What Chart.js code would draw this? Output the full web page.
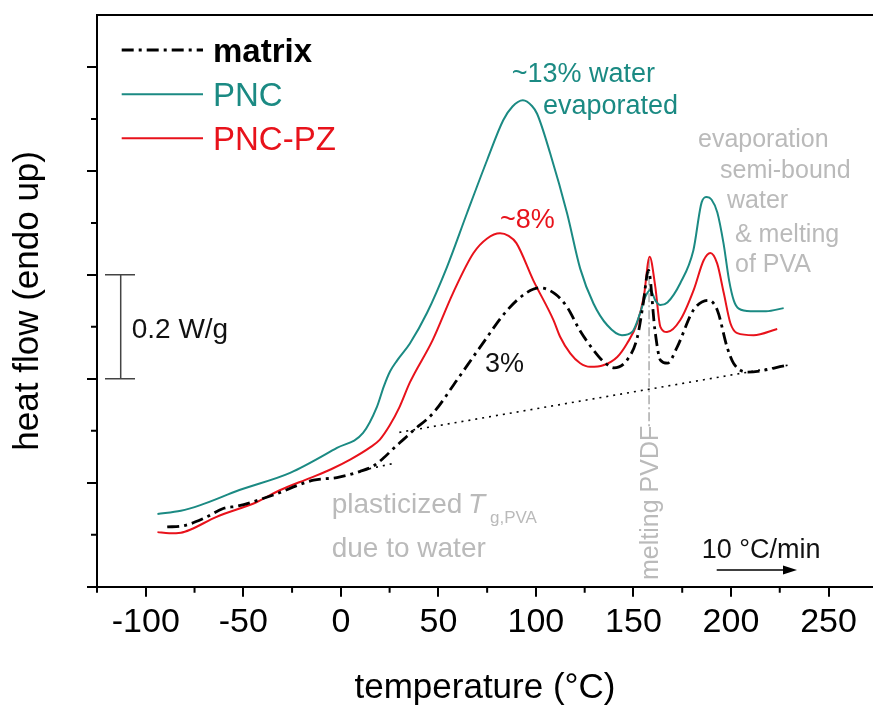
<!DOCTYPE html>
<html lang="en">
<head>
<meta charset="UTF-8">
<title>DSC heat flow – matrix, PNC, PNC-PZ</title>
<script src="https://cdn.jsdelivr.net/npm/chart.js"></script>
<style>
  html, body { margin: 0; padding: 0; background: #fff; }
  #wrap { width: 873px; height: 711px; }
</style>
</head>
<body>
<div id="wrap"><canvas id="dsc" width="873" height="711"></canvas></div>
<script>
// temperature (°C) and heat flow (W/g, arbitrary offset)
const matrixT  = [-89, -81, -70, -60, -53, -35, -14, -2, 10, 16.6, 22, 27, 32, 37, 47.3, 59.6, 71.4, 85.3, 95, 102, 110, 116, 122.7, 130, 135, 140, 146.7, 152, 155, 157.7, 161, 163.8, 167.4, 172.4, 180.7, 188.4, 193, 198, 201.3, 208.5, 229];
const matrixHF = [0.115, 0.117, 0.132, 0.151, 0.155, 0.176, 0.205, 0.210, 0.222, 0.232, 0.248, 0.266, 0.283, 0.300, 0.334, 0.398, 0.461, 0.532, 0.565, 0.575, 0.563, 0.538, 0.492, 0.453, 0.432, 0.421, 0.436, 0.480, 0.545, 0.609, 0.494, 0.436, 0.430, 0.461, 0.532, 0.551, 0.532, 0.461, 0.430, 0.413, 0.426];

const pncT  = [-94, -82, -72, -52, -26, -2, 11.4, 18.5, 22, 25.2, 28.8, 35.4, 44.2, 54.4, 64.7, 75, 83.3, 88, 93.3, 98, 100.6, 107.3, 116, 122.7, 129.5, 136.6, 144.1, 149.3, 153.4, 156, 158.7, 161.2, 163.8, 167.4, 174, 180.7, 185, 187.6, 190, 193, 196.2, 199, 201.5, 204, 210, 218, 227];
const pncHF = [0.140, 0.146, 0.157, 0.186, 0.219, 0.267, 0.296, 0.346, 0.385, 0.414, 0.435, 0.468, 0.527, 0.615, 0.719, 0.821, 0.898, 0.924, 0.936, 0.925, 0.910, 0.834, 0.718, 0.612, 0.545, 0.503, 0.484, 0.490, 0.526, 0.557, 0.571, 0.551, 0.542, 0.547, 0.584, 0.647, 0.740, 0.750, 0.745, 0.720, 0.660, 0.590, 0.550, 0.535, 0.530, 0.530, 0.536];

const pzT  = [-94, -88, -82, -77, -64, -43, -31, -15.9, -5, 5, 15, 20, 25, 30, 35.4, 47, 57.5, 68, 75, 81.6, 86, 90, 98.6, 109, 112.4, 117.6, 122.7, 127.8, 134.5, 141.7, 146.7, 151.9, 155.3, 158.3, 161.2, 163.8, 167.2, 174, 180.9, 186, 189.4, 192.9, 196.3, 199.7, 203.2, 211.6, 223.7];
const pzHF = [0.105, 0.103, 0.104, 0.110, 0.134, 0.163, 0.186, 0.209, 0.226, 0.245, 0.268, 0.283, 0.310, 0.345, 0.393, 0.474, 0.565, 0.642, 0.670, 0.680, 0.675, 0.661, 0.590, 0.513, 0.481, 0.449, 0.430, 0.423, 0.426, 0.442, 0.468, 0.507, 0.558, 0.635, 0.577, 0.500, 0.490, 0.513, 0.571, 0.628, 0.642, 0.622, 0.565, 0.507, 0.488, 0.484, 0.496];

// construction lines: baseline above Tg, extrapolated glassy baseline, PVDF melting guide
const baseT  = [30, 229];
const baseHF = [0.297, 0.426];
const glassT  = [11, 28];
const glassHF = [0.224, 0.238];
const pvdfT  = [158, 158];
const pvdfHF = [0.63, 0.307];

const xMajor = [-100, -50, 0, 50, 100, 150, 200, 250];
const xMinor = [-125, -75, -25, 25, 75, 125, 175, 225];
const yMajor = [0, 0.2, 0.4, 0.6, 0.8, 1.0];
const yMinor = [0.1, 0.3, 0.5, 0.7, 0.9];

const FAM = "'Liberation Sans', Arial, sans-serif";
const TEAL = '#1b8a83';
const RED = '#e8121b';
const GREY = '#bababa';

function pts(t, hf) {
  return t.map((x, i) => ({ x: x, y: hf[i] }));
}

const decor = {
  id: 'decor',
  afterDatasetsDraw(chart) {
    const ctx = chart.ctx;
    const a = chart.chartArea;
    const xs = chart.scales.x, ys = chart.scales.y;
    ctx.save();

    // top frame line + minor ticks
    ctx.strokeStyle = '#000';
    ctx.lineWidth = 2;
    ctx.beginPath();
    ctx.moveTo(a.left - 1, a.top);
    ctx.lineTo(a.right, a.top);
    xMinor.forEach(v => {
      const p = xs.getPixelForValue(v);
      ctx.moveTo(p, a.bottom);
      ctx.lineTo(p, a.bottom + 6);
    });
    yMinor.forEach(v => {
      const p = ys.getPixelForValue(v);
      ctx.moveTo(a.left, p);
      ctx.lineTo(a.left - 6, p);
    });
    ctx.stroke();

    // 0.2 W/g scale bar
    const y1 = ys.getPixelForValue(0.6), y2 = ys.getPixelForValue(0.4);
    ctx.strokeStyle = '#444';
    ctx.lineWidth = 1.5;
    ctx.beginPath();
    ctx.moveTo(120.7, y1); ctx.lineTo(120.7, y2);
    ctx.moveTo(105, y1); ctx.lineTo(135, y1);
    ctx.moveTo(105, y2); ctx.lineTo(135, y2);
    ctx.stroke();

    function txt(s, x, y, size, color, style) {
      ctx.font = (style || '') + ' ' + size + 'px ' + FAM;
      ctx.fillStyle = color;
      ctx.textAlign = 'left';
      ctx.textBaseline = 'alphabetic';
      ctx.fillText(s, x, y);
    }

    txt('0.2 W/g', 131.7, 338.3, 28, '#111');

    // legend
    const rows = [50, 94.3, 138.3];
    chart.data.datasets.slice(0, 3).forEach((ds, i) => {
      ctx.strokeStyle = ds.borderColor;
      ctx.lineWidth = ds.borderWidth;
      ctx.setLineDash(ds.borderDash || []);
      ctx.beginPath();
      ctx.moveTo(121.7, rows[i]);
      ctx.lineTo(203, rows[i]);
      ctx.stroke();
      ctx.setLineDash([]);
      txt(ds.label, 213, rows[i] + 12, 33, ds.borderColor, i === 0 ? 'bold' : '');
    });

    // annotations
    txt('~13% water', 511.7, 81.7, 27, TEAL);
    txt('evaporated', 543, 114, 27, TEAL);
    txt('~8%', 500, 228, 27, RED);
    txt('3%', 485, 371.7, 27, '#111');

    txt('evaporation', 698, 146.7, 25, GREY);
    txt('semi-bound', 720, 178.3, 25, GREY);
    txt('water', 727, 208.3, 25, GREY);
    txt('& melting', 735, 241.7, 25, GREY);
    txt('of PVA', 735, 271.7, 25, GREY);

    txt('plasticized', 331.7, 513, 28, GREY);
    txt('T', 468, 513, 28, GREY, 'italic');
    txt('g,PVA', 490, 523, 17, GREY);
    txt('due to water', 331.7, 556.7, 28, GREY);

    ctx.save();
    ctx.translate(658, 580);
    ctx.rotate(-Math.PI / 2);
    txt('melting PVDF', 0, 0, 25, GREY);
    ctx.restore();

    txt('10 °C/min', 701.7, 558.3, 27, '#111');
    ctx.strokeStyle = '#000';
    ctx.lineWidth = 1.5;
    ctx.beginPath();
    ctx.moveTo(716.7, 570);
    ctx.lineTo(785, 570);
    ctx.stroke();
    ctx.fillStyle = '#000';
    ctx.beginPath();
    ctx.moveTo(797, 570);
    ctx.lineTo(783, 565.5);
    ctx.lineTo(783, 574.5);
    ctx.closePath();
    ctx.fill();

    ctx.restore();
  }
};

const curve = { pointRadius: 0, fill: false, tension: 0.4, cubicInterpolationMode: 'monotone' };

new Chart(document.getElementById('dsc'), {
  type: 'line',
  data: {
    datasets: [
      Object.assign({ label: 'matrix', data: pts(matrixT, matrixHF), borderColor: '#000', borderWidth: 2.8, borderDash: [12, 5, 3, 5] }, curve),
      Object.assign({ label: 'PNC', data: pts(pncT, pncHF), borderColor: TEAL, borderWidth: 2 }, curve),
      Object.assign({ label: 'PNC-PZ', data: pts(pzT, pzHF), borderColor: RED, borderWidth: 2 }, curve),
      { label: 'baseline', data: pts(baseT, baseHF), borderColor: '#000', borderWidth: 1.6, borderDash: [2, 5], pointRadius: 0, fill: false },
      { label: 'glass', data: pts(glassT, glassHF), borderColor: '#000', borderWidth: 1.6, borderDash: [2, 5], pointRadius: 0, fill: false },
      { label: 'pvdf', data: pts(pvdfT, pvdfHF), borderColor: '#aaa', borderWidth: 1.5, borderDash: [9, 3, 2, 3], pointRadius: 0, fill: false }
    ]
  },
  options: {
    responsive: false,
    animation: false,
    devicePixelRatio: 1,
    layout: { padding: { top: 15, right: 0, bottom: 0, left: 0 } },
    plugins: { legend: { display: false }, tooltip: { enabled: false } },
    scales: {
      x: {
        type: 'linear',
        min: -125,
        max: 272.8,
        afterBuildTicks: s => { s.ticks = xMajor.map(v => ({ value: v })); },
        afterFit: s => { s.height = 124.3; },
        grid: { drawOnChartArea: false, color: '#000', lineWidth: 2, tickLength: 10 },
        border: { display: true, color: '#000', width: 2 },
        ticks: { color: '#000', font: { family: FAM, size: 34 }, padding: 6, maxRotation: 0, autoSkip: false },
        title: { display: true, text: 'temperature (°C)', color: '#000', font: { family: FAM, size: 35 }, padding: { top: 0, bottom: 2 } }
      },
      y: {
        min: 0,
        max: 1.1,
        afterBuildTicks: s => { s.ticks = yMajor.map(v => ({ value: v })); },
        afterFit: s => { s.width = 97; },
        grid: { drawOnChartArea: false, color: '#000', lineWidth: 2, tickLength: 10 },
        border: { display: true, color: '#000', width: 2 },
        ticks: { display: false },
        title: { display: true, text: 'heat flow (endo up)', color: '#000', font: { family: FAM, size: 35 }, padding: { top: 7, bottom: 0 } }
      }
    }
  },
  plugins: [decor]
});
</script>
</body>
</html>
